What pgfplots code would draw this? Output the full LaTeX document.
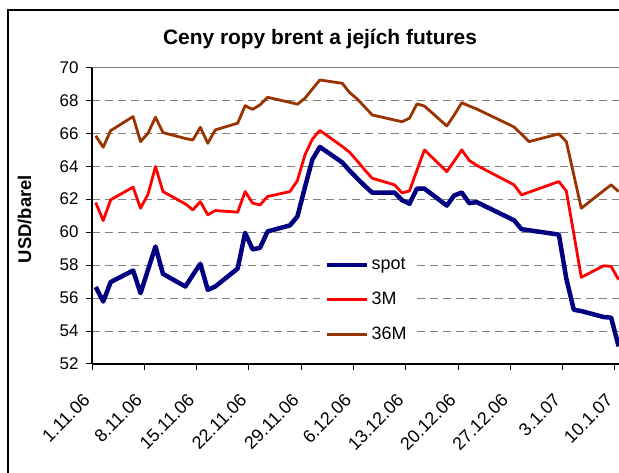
\documentclass[border=0pt]{standalone}
\usepackage{fontspec}
\setmainfont{Liberation Sans}
\usepackage{pgfplots}
\pgfplotsset{compat=1.18}
\definecolor{spotc}{RGB}{0,0,128}
\definecolor{threem}{RGB}{255,0,0}
\definecolor{tsm}{RGB}{153,51,0}
\begin{document}
\begin{tikzpicture}
\useasboundingbox (0bp,0bp) rectangle (619bp,473bp);
\clip (0bp,0bp) rectangle (619bp,473bp);
\draw[line width=2bp] (8bp,-20bp) -- (8bp,463bp) -- (650bp,463bp);
\node[anchor=base,font=\bfseries\fontsize{21}{24}\selectfont] at (320bp,428bp) {Ceny ropy brent a jejích futures};
\node[rotate=90,anchor=base,font=\bfseries\fontsize{18.5}{22}\selectfont] at (31bp,254bp) {USD/barel};
\begin{axis}[
  at={(92bp,109bp)}, anchor=south west,
  scale only axis, width=527bp, height=296.7bp,
  xmin=0, xmax=70.55, ymin=52, ymax=70,
  axis x line*=bottom, axis y line*=left,
  axis line style={line width=1.2bp, black},
  tick align=outside, tick style={black, line width=1bp, major tick length=6bp},
  xtick={0,7,...,70},
  xticklabels={1.11.06,8.11.06,15.11.06,22.11.06,29.11.06,6.12.06,13.12.06,20.12.06,27.12.06,3.1.07,10.1.07},
  ytick={52,54,...,70},
  ymajorgrids, grid style={gray, line width=1bp, dash pattern=on 8bp off 5bp},
  /pgf/number format/assume math mode=true,
  ticklabel style={font=\fontsize{17}{20}\selectfont},
  xticklabel style={font=\fontsize{18}{20}\selectfont, shift={(-3bp,-25bp)}, rotate=45, anchor=east},
  yticklabel style={anchor=east, xshift=-4bp},
  legend style={at={(axis description cs:0.4326,0.384)}, anchor=north west, draw=none, fill=white,
    inner xsep=5bp, inner ysep=4bp, row sep=14bp, font=\fontsize{18}{20}\selectfont,
    nodes={inner sep=2bp, text height=13bp, text depth=4bp}},
  legend cell align=left,
  legend image code/.code={\draw[#1] (0bp,0bp) -- (40bp,0bp);},
]
\addplot[spotc, line width=4.5bp, line join=round] coordinates {
(0.5,56.67)(1.5,55.79)(2.5,56.97)(5.5,57.67)(6.5,56.30)(7.5,57.72)(8.5,59.13)(9.5,57.47)
(12.5,56.70)(13.5,57.40)(14.5,58.08)(15.5,56.50)(16.5,56.70)(19.5,57.79)(20.5,59.96)(21.5,58.95)
(22.5,59.05)(23.5,60.04)(26.5,60.41)(27.5,60.95)(28.5,62.72)(29.5,64.40)(30.5,65.17)
(33.5,64.23)(34.5,63.72)(35.5,63.26)(36.5,62.81)(37.5,62.40)(40.5,62.40)(41.5,61.94)(42.5,61.72)
(43.5,62.64)(44.5,62.64)(47.5,61.61)(48.5,62.23)(49.5,62.40)(50.5,61.76)(51.5,61.82)
(56.5,60.72)(57.5,60.18)(62.5,59.85)(63.5,57.17)(64.5,55.29)(65.5,55.21)(68.5,54.85)(69.5,54.81)(70.5,53.07)
};
\addlegendentry{spot}
\addplot[threem, line width=2.8bp, line join=round] coordinates {
(0.5,61.79)(1.5,60.70)(2.5,61.96)(5.5,62.73)(6.5,61.45)(7.5,62.30)(8.5,63.98)(9.5,62.46)
(12.5,61.71)(13.5,61.35)(14.5,61.85)(15.5,61.05)(16.5,61.31)(19.5,61.21)(20.5,62.46)(21.5,61.76)
(22.5,61.65)(23.5,62.16)(26.5,62.46)(27.5,63.13)(28.5,64.68)(29.5,65.64)(30.5,66.17)
(33.5,65.20)(34.5,64.84)(35.5,64.32)(36.5,63.78)(37.5,63.27)(40.5,62.87)(41.5,62.38)(42.5,62.50)
(43.5,63.75)(44.5,64.99)(47.5,63.67)(48.5,64.32)(49.5,64.99)(50.5,64.35)(51.5,64.05)
(56.5,62.87)(57.5,62.26)(62.5,63.07)(63.5,62.49)(64.5,59.90)(65.5,57.26)(68.5,57.96)(69.5,57.92)(70.5,57.11)
};
\addlegendentry{3M}
\addplot[tsm, line width=2.8bp, line join=round] coordinates {
(0.5,65.84)(1.5,65.15)(2.5,66.16)(5.5,67.01)(6.5,65.49)(7.5,66.00)(8.5,66.97)(9.5,66.04)
(12.5,65.68)(13.5,65.59)(14.5,66.36)(15.5,65.39)(16.5,66.20)(19.5,66.61)(20.5,67.67)(21.5,67.45)
(22.5,67.72)(23.5,68.18)(26.5,67.87)(27.5,67.76)(28.5,68.12)(29.5,68.68)(30.5,69.23)
(33.5,69.03)(34.5,68.46)(35.5,68.08)(36.5,67.60)(37.5,67.11)(40.5,66.80)(41.5,66.70)(42.5,66.91)
(43.5,67.78)(44.5,67.65)(47.5,66.44)(48.5,67.11)(49.5,67.85)(50.5,67.65)(51.5,67.47)
(56.5,66.38)(57.5,65.94)(58.5,65.49)(62.5,65.96)(63.5,65.49)(64.5,63.47)(65.5,61.45)(68.5,62.52)(69.5,62.87)(70.5,62.46)
};
\addlegendentry{36M}
\draw[gray, line width=1.2bp] (rel axis cs:0,1) -- (rel axis cs:1,1);
\end{axis}
\end{tikzpicture}
\end{document}
